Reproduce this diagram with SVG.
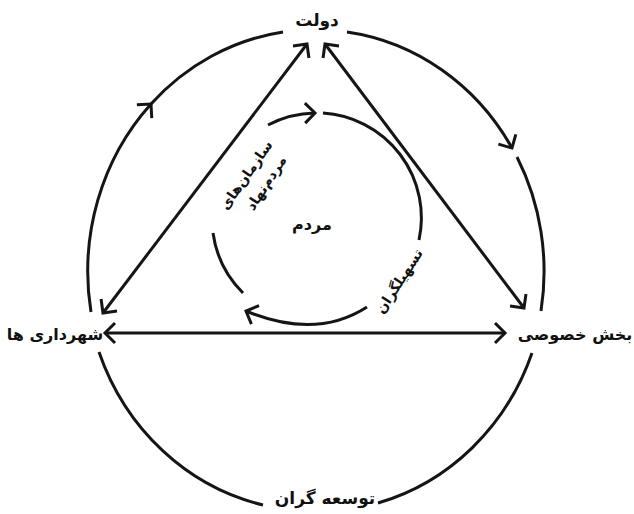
<svg xmlns="http://www.w3.org/2000/svg" width="634" height="514" viewBox="0 0 634 514">
<defs>
<style>
.ln{fill:none;stroke:#151515;stroke-width:3;}
.lbl{font-family:"DejaVu Sans",sans-serif;font-weight:bold;fill:#111;text-anchor:middle;}
</style>
<marker id="ah" markerUnits="userSpaceOnUse" markerWidth="30" markerHeight="30" viewBox="-15 -15 30 30" refX="0" refY="0" orient="auto-start-reverse">
<path d="M-10,-10 L0,0 L-10,10" fill="none" stroke="#151515" stroke-width="3"/>
</marker>
</defs>
<rect width="634" height="514" fill="#fff"/>
<g id="connectors">
<path class="ln" d="M91,312 A228,242 0 0 1 151,104" marker-end="url(#ah)"/>
<path class="ln" d="M151,104 A228,242 0 0 1 283,32"/>
<path class="ln" d="M347,32 A228,242 0 0 1 512,148" marker-end="url(#ah)"/>
<path class="ln" d="M517,157 A228,242 0 0 1 541,311"/>
<path class="ln" d="M532,353 A228,242 0 0 1 378,503"/>
<path class="ln" d="M263,505 A228,242 0 0 1 99,352"/>
<path class="ln" d="M307,44 L103,313" marker-start="url(#ah)" marker-end="url(#ah)"/>
<path class="ln" d="M325,44 L524,308" marker-start="url(#ah)" marker-end="url(#ah)"/>
<path class="ln" d="M105,333 L505,333" marker-start="url(#ah)" marker-end="url(#ah)"/>
<path class="ln" d="M268,125 A105,105 0 0 1 315,113" marker-end="url(#ah)"/>
<path class="ln" d="M323,113 A105,105 0 0 1 419,240"/>
<path class="ln" d="M367,307 Q316,340 246,311" marker-end="url(#ah)"/>
<path class="ln" d="M243,293 A105,105 0 0 1 213,233"/>
</g>
<g id="dolat"><text class="lbl" x="317" y="26" font-size="17">دولت</text></g>
<g id="shahrdari"><text class="lbl" x="55" y="340" font-size="16">شهرداری ها</text></g>
<g id="bakhsh-khosusi"><text class="lbl" x="575" y="340" font-size="16">بخش خصوصی</text></g>
<g id="tosee-garan"><text class="lbl" x="325" y="504" font-size="17">توسعه گران</text></g>
<g id="mardom"><text class="lbl" x="312" y="230" font-size="16">مردم</text></g>
<g id="sazmanha">
<text class="lbl" font-size="14" transform="translate(246,175) rotate(-55)" x="0" y="5">سازمان‌های</text>
<text class="lbl" font-size="14" transform="translate(266,183) rotate(-57)" x="0" y="5">مردم‌نهاد</text>
</g>
<g id="tashilgaran"><text class="lbl" font-size="14" transform="translate(399,281) rotate(-57)" x="0" y="5">تسهیلگران</text></g>
</svg>
